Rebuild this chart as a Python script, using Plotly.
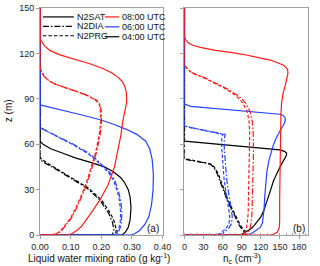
import plotly.graph_objects as go

# ---------------- data: panel (a) liquid water mixing ratio (g/kg) vs z (m)
z_lwc_04_sat = [0, 0, 2, 5, 10, 18, 25, 30, 35, 38, 42, 45, 48, 51, 54, 57, 60, 62, 150]
lwc_04_sat = [0, 0.268, 0.279, 0.288, 0.294, 0.297, 0.294, 0.288, 0.275, 0.263, 0.238, 0.21, 0.165, 0.115, 0.075, 0.035, 0.01, 0, 0]
z_lwc_04_dia = [0, 0, 3, 8, 14, 23, 31, 38, 42, 45, 48, 50, 150]
lwc_04_dia = [0, 0.236, 0.241, 0.237, 0.225, 0.196, 0.153, 0.096, 0.066, 0.04, 0.012, 0, 0]
z_lwc_04_prg = [0, 0, 3, 8, 14, 23, 31, 38, 42, 45, 48, 50, 51, 150]
lwc_04_prg = [0, 0.246, 0.249, 0.244, 0.231, 0.201, 0.158, 0.1, 0.07, 0.046, 0.02, 0.006, 0, 0]

z_lwc_06_sat = [0, 0, 1, 3, 7, 12, 20, 30, 40, 50, 57, 62, 66.5, 70, 73, 76, 79.6, 83, 85, 86, 150]
lwc_06_sat = [0, 0.297, 0.31, 0.325, 0.342, 0.355, 0.364, 0.369, 0.37, 0.366, 0.358, 0.345, 0.316, 0.28, 0.242, 0.2, 0.13, 0.055, 0.015, 0, 0]
z_lwc_06_dia = [0, 0, 2, 5, 9, 15, 22, 29, 36, 41, 45, 50, 54, 57, 60, 63, 66.5, 69, 71, 150]
lwc_06_dia = [0, 0.247, 0.256, 0.262, 0.266, 0.267, 0.264, 0.256, 0.244, 0.229, 0.209, 0.184, 0.159, 0.136, 0.109, 0.078, 0.044, 0.018, 0, 0]
z_lwc_06_prg = [0, 0, 2, 5, 9, 15, 22, 29, 36, 41, 45, 50, 54, 57, 60, 63, 66.5, 69, 71, 150]
lwc_06_prg = [0, 0.243, 0.252, 0.258, 0.262, 0.263, 0.26, 0.252, 0.24, 0.225, 0.205, 0.18, 0.155, 0.132, 0.105, 0.075, 0.042, 0.018, 0, 0]

z_lwc_08_sat = [0, 0, 1, 3, 6, 10, 15, 23, 33, 45, 56, 66, 75, 82, 88, 94, 98, 101, 104, 107, 110, 113, 116, 119, 122, 125, 128, 130, 150]
lwc_08_sat = [0, 0.09, 0.105, 0.12, 0.137, 0.152, 0.168, 0.195, 0.222, 0.243, 0.255, 0.264, 0.27, 0.278, 0.283, 0.282, 0.277, 0.27, 0.256, 0.235, 0.205, 0.165, 0.112, 0.065, 0.032, 0.015, 0.005, 0, 0]
z_lwc_08_dia = [0, 0, 1, 3, 7.6, 12, 18, 23, 30, 38, 45, 55, 66, 75, 82, 86, 89, 92, 94, 96, 98, 100, 102.5, 105, 108, 111, 150]
lwc_08_dia = [0, 0.038, 0.058, 0.071, 0.089, 0.105, 0.12, 0.131, 0.146, 0.16, 0.171, 0.185, 0.196, 0.201, 0.2, 0.197, 0.185, 0.158, 0.132, 0.102, 0.07, 0.046, 0.026, 0.013, 0.005, 0, 0]
z_lwc_08_prg = [0, 0, 1, 3, 7.6, 12, 18, 23, 30, 38, 45, 55, 66, 75, 82, 86, 89, 92, 94, 96, 98, 100, 102.5, 105, 108, 111, 150]
lwc_08_prg = [0, 0.035, 0.055, 0.068, 0.086, 0.102, 0.117, 0.128, 0.143, 0.157, 0.168, 0.182, 0.193, 0.198, 0.197, 0.194, 0.182, 0.155, 0.13, 0.1, 0.068, 0.045, 0.025, 0.013, 0.005, 0, 0]

# ---------------- data: panel (b) droplet number n_c (cm^-3) vs z (m)
z_nc_04_sat = [0, 0, 0.5, 2, 4, 6, 9, 12, 16, 23, 30, 36, 41, 45, 48, 50.5, 52.5, 54, 55.3, 56.2, 61.5, 62, 150]
nc_04_sat = [0, 86, 90, 97, 104, 109, 115, 120, 124.5, 130.5, 135.5, 140, 145, 150, 154, 157.5, 160, 160.5, 157, 150, 10, 0, 0]
z_nc_04_dia = [0, 0, 1, 2.5, 6, 12, 18.5, 23, 27, 34, 40.5, 45, 46.7, 47.5, 48.5, 49.3, 50, 150]
nc_04_dia = [0, 97, 95, 93, 86.5, 79.5, 71.5, 67, 63.5, 57.5, 51.5, 45.5, 41, 34, 20, 10, 0, 0]
z_nc_04_prg = [0, 0, 1, 2.5, 6, 12, 18.5, 23, 27, 34, 40.5, 45, 46.7, 47.5, 48.8, 49.5, 50.5, 150]
nc_04_prg = [0, 99, 97, 95, 88.3, 81, 73, 68.4, 65, 59, 53, 46.5, 42, 35, 20, 10, 0, 0]

z_nc_06_sat = [0, 0, 1.5, 3.5, 5, 8, 12, 17, 25, 34, 42, 49, 54, 60, 64, 67.5, 71, 73, 76, 77.5, 79, 79.8, 85, 86.5, 150]
nc_06_sat = [0, 100, 107, 115, 119, 122.5, 124, 125, 126, 127.5, 129.5, 132.5, 135.5, 140, 144, 148, 153, 156, 158.5, 158, 155, 150, 10, 0, 0]
z_nc_06_dia = [0, 0, 1, 2.2, 4.4, 7.6, 12, 16, 23, 30, 38, 45, 52, 58, 63, 65.5, 66.5, 71, 72, 150]
nc_06_dia = [0, 55, 60, 64, 69.5, 74, 75, 74, 71, 68.5, 66, 64.5, 63.5, 62.5, 62.5, 63.5, 64, 10, 0, 0]
z_nc_06_prg = [0, 0, 1, 2.2, 4.4, 7.6, 12, 16, 23, 30, 38, 45, 52, 58, 63, 65.5, 66.5, 71, 72, 150]
nc_06_prg = [0, 50, 56, 60, 65.5, 70, 71, 70, 67, 64.5, 62, 60.5, 59.5, 58.5, 58.5, 59.5, 60, 10, 0, 0]

z_nc_08_sat = [0, 0, 0.5, 2, 5, 10, 23, 45, 66.5, 80, 87, 93.7, 100, 106.8, 109, 110.5, 112.3, 114, 115.6, 117, 118.8, 120.5, 122, 124, 125.4, 127, 129, 131, 150]
nc_08_sat = [0, 135, 140, 146, 149, 149.5, 149.5, 150, 150.5, 151.5, 152.5, 155, 159, 162.5, 162, 160, 155, 146, 135, 118, 99, 75, 48.7, 25, 13, 6, 2, 0, 0]
z_nc_08_dia = [0, 0, 1.3, 4, 7.6, 14, 23, 34, 45, 56, 66.5, 75, 81.7, 87.2, 90, 92.7, 95.5, 98, 100.5, 103.5, 106.8, 109.5, 112.3, 150]
nc_08_dia = [0, 96, 100, 103, 104.5, 106, 106.5, 107.5, 108.5, 108.5, 108, 106.5, 103, 96, 90, 82, 71, 61, 48, 34, 14, 5, 0, 0]
z_nc_08_prg = [0, 0, 1.3, 4, 7.6, 14, 23, 34, 45, 56, 66.5, 75, 81.7, 87.2, 90, 92.7, 95.5, 98, 100.5, 103.5, 106.8, 109.5, 112.3, 150]
nc_08_prg = [0, 90, 94.5, 97, 98.5, 100, 100.5, 101, 102, 102.5, 102.5, 101.5, 98.5, 91.5, 86, 79, 69, 59, 46, 33, 13, 5, 0, 0]

# ---------------- labels
scheme_labels = ["N2SAT", "N2DIA", "N2PRG"]
time_labels = ["08:00 UTC", "06:00 UTC", "04:00 UTC"]
lwc_ticks = [0, 0.1, 0.2, 0.3, 0.4]
nc_ticks = [0, 30, 60, 90, 120, 150, 180]
z_ticks = [0, 30, 60, 90, 120, 150]

# ---------------- styles
FONT = "Liberation Sans, Arial, sans-serif"
COL = {"04": "#000000", "06": "#2341ff", "08": "#ff1a1a"}
DASH = {"sat": "solid", "dia": "6px,2px,1.5px,2px", "prg": "3.5px,2px"}
AXC = "#a0a0a0"
TXT = "#111111"
LW = 1.2

fig = go.Figure()

lwc_series = [
    ("04", "sat", lwc_04_sat, z_lwc_04_sat), ("04", "dia", lwc_04_dia, z_lwc_04_dia), ("04", "prg", lwc_04_prg, z_lwc_04_prg),
    ("06", "sat", lwc_06_sat, z_lwc_06_sat), ("06", "dia", lwc_06_dia, z_lwc_06_dia), ("06", "prg", lwc_06_prg, z_lwc_06_prg),
    ("08", "sat", lwc_08_sat, z_lwc_08_sat), ("08", "dia", lwc_08_dia, z_lwc_08_dia), ("08", "prg", lwc_08_prg, z_lwc_08_prg),
]
nc_series = [
    ("04", "sat", nc_04_sat, z_nc_04_sat), ("04", "dia", nc_04_dia, z_nc_04_dia), ("04", "prg", nc_04_prg, z_nc_04_prg),
    ("06", "sat", nc_06_sat, z_nc_06_sat), ("06", "dia", nc_06_dia, z_nc_06_dia), ("06", "prg", nc_06_prg, z_nc_06_prg),
    ("08", "sat", nc_08_sat, z_nc_08_sat), ("08", "dia", nc_08_dia, z_nc_08_dia), ("08", "prg", nc_08_prg, z_nc_08_prg),
]

for t, s, xv, zv in lwc_series:
    fig.add_trace(go.Scatter(x=xv, y=zv, mode="lines", xaxis="x", yaxis="y",
                             line=dict(color=COL[t], width=LW, dash=DASH[s]),
                             showlegend=False, hoverinfo="skip"))
for t, s, xv, zv in nc_series:
    fig.add_trace(go.Scatter(x=xv, y=zv, mode="lines", xaxis="x2", yaxis="y2",
                             line=dict(color=COL[t], width=LW, dash=DASH[s]),
                             showlegend=False, hoverinfo="skip"))

W, H = 320, 266
ML, MR, MT, MB = 40, 3, 6, 31
PW, PH = W - ML - MR, H - MT - MB


def xp(px):
    return (px - ML) / PW


def yp(py):
    return (H - MB - py) / PH


axis_common = dict(showline=True, linecolor=AXC, linewidth=1, mirror=True,
                   ticks="outside", ticklen=3, tickcolor=AXC, tickwidth=1,
                   showgrid=False, zeroline=False,
                   tickfont=dict(family=FONT, size=9, color="#222222"))

fig.update_layout(
    width=W, height=H,
    margin=dict(l=ML, r=MR, t=MT, b=MB, pad=0),
    paper_bgcolor="white", plot_bgcolor="white",
    font=dict(family=FONT, size=9, color=TXT),
    showlegend=False,
    xaxis=dict(domain=[0, xp(166.7)], range=[0, 0.4], tickvals=lwc_ticks,
               ticktext=[f"{v:.2f}" for v in lwc_ticks],
               **axis_common),
    yaxis=dict(domain=[0, 1], range=[0, 150], tickvals=z_ticks, anchor="x", **axis_common),
    xaxis2=dict(domain=[xp(189.3), 1], range=[0, 194], tickvals=nc_ticks, anchor="y2",
                minor=dict(dtick=10, ticks="inside", ticklen=2, tickcolor=AXC),
                **axis_common),
    yaxis2=dict(domain=[0, 1], range=[0, 150], tickvals=z_ticks, anchor="x2",
                showticklabels=False, **axis_common),
)

annotations = [
    dict(text="z (m)", x=xp(7), y=yp(110), xref="paper", yref="paper", textangle=-90,
         showarrow=False, xanchor="center", yanchor="middle",
         font=dict(family=FONT, size=10, color=TXT)),
    dict(text="Liquid water mixing ratio (g kg<sup>-1</sup>)", x=xp(101), y=yp(258.5),
         xref="paper", yref="paper", showarrow=False, xanchor="center", yanchor="middle",
         font=dict(family=FONT, size=10, color=TXT)),
    dict(text="n<sub>c</sub> (cm<sup>-3</sup>)", x=xp(249), y=yp(258.5),
         xref="paper", yref="paper", showarrow=False, xanchor="center", yanchor="middle",
         font=dict(family=FONT, size=10, color=TXT)),
    dict(text="(a)", x=xp(157), y=yp(228), xref="paper", yref="paper", showarrow=False,
         xanchor="center", yanchor="middle", font=dict(family=FONT, size=10, color=TXT)),
    dict(text="(b)", x=xp(307.5), y=yp(228), xref="paper", yref="paper", showarrow=False,
         xanchor="center", yanchor="middle", font=dict(family=FONT, size=10, color=TXT)),
]

shapes = []
# legend column 1: schemes (black line styles)
rows1 = [15, 24.5, 34]
for lab, key, py in zip(scheme_labels, ["sat", "dia", "prg"], rows1):
    shapes.append(dict(type="line", xref="paper", yref="paper", x0=xp(43), x1=xp(75), y0=yp(py), y1=yp(py),
                       line=dict(color="#000000", width=LW, dash=DASH[key])))
    annotations.append(dict(text=lab, x=xp(76.5), y=yp(py), xref="paper", yref="paper", showarrow=False,
                            xanchor="left", yanchor="middle", font=dict(family=FONT, size=9, color=TXT)))
# legend column 2: times (colours)
rows2 = [15, 25, 35]
for lab, key, py in zip(time_labels, ["08", "06", "04"], rows2):
    shapes.append(dict(type="line", xref="paper", yref="paper", x0=xp(107), x1=xp(122), y0=yp(py), y1=yp(py),
                       line=dict(color=COL[key], width=LW)))
    annotations.append(dict(text=lab, x=xp(123), y=yp(py), xref="paper", yref="paper", showarrow=False,
                            xanchor="left", yanchor="middle", font=dict(family=FONT, size=9, color=TXT)))

fig.update_layout(annotations=annotations, shapes=shapes)
fig.write_html("out.html", config={"displayModeBar": False, "staticPlot": True},
               post_script="document.body.style.margin='0';document.body.style.overflow='hidden';")
